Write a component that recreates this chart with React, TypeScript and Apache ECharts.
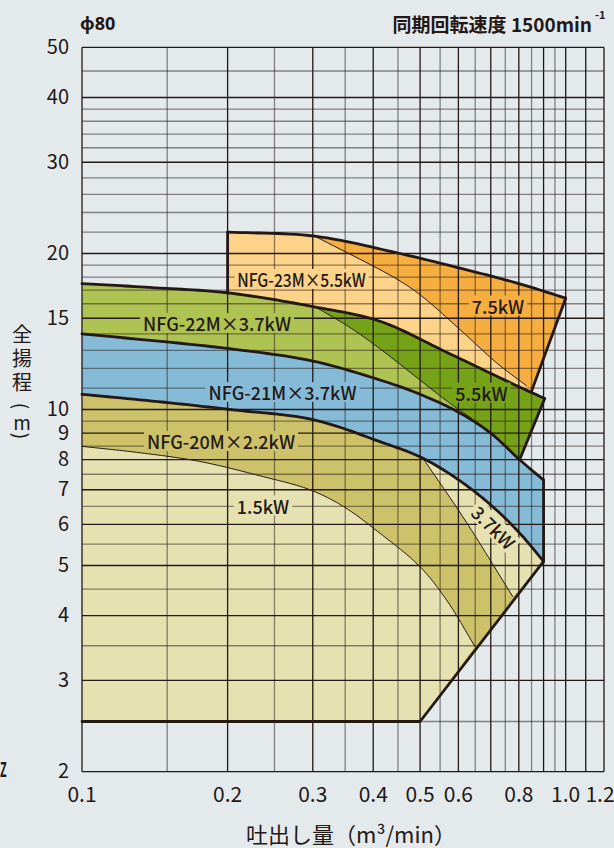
import React, { useEffect, useRef } from "react";
import * as echarts from "echarts";

// ---- axes ----
const X_MIN = 0.1;
const X_MAX = 1.2;
const Y_MIN = 2;
const Y_MAX = 50;
const xGrid = [0.1, 0.15, 0.2, 0.25, 0.3, 0.35, 0.4, 0.45, 0.5, 0.55, 0.6, 0.65, 0.7, 0.75, 0.8, 0.85, 0.9, 0.95, 1.0, 1.1, 1.2];
const yGrid = [2, 2.5, 3, 3.5, 4, 4.5, 5, 5.5, 6, 6.5, 7, 7.5, 8, 8.5, 9, 9.5, 10, 11, 12, 13, 14, 15, 16, 17, 18, 19, 20, 22, 24, 26, 28, 30, 32, 34, 36, 38, 40, 45, 50];
const xTicks = [0.1, 0.2, 0.3, 0.4, 0.5, 0.6, 0.8, 1.0, 1.2];
const yTicks = [2, 3, 4, 5, 6, 7, 8, 9, 10, 15, 20, 30, 40, 50];

// ---- H-Q curves [Q (m3/min), H (m)] ----
const curve20M = [[0.1, 10.7], [0.152, 10.3], [0.202, 10.0], [0.3, 9.56], [0.413, 8.67], [0.507, 8.05], [0.614, 7.21], [0.719, 6.4], [0.816, 5.68], [0.9, 5.09]];
const curve21M = [[0.1, 14.0], [0.202, 13.1], [0.3, 12.4], [0.413, 11.4], [0.5, 10.7], [0.604, 9.85], [0.7, 9.0], [0.803, 8.0], [0.9, 7.31]];
const curve22M = [[0.1, 17.5], [0.138, 17.2], [0.199, 16.8], [0.3, 15.8], [0.413, 14.8], [0.567, 12.9], [0.778, 11.2], [0.905, 10.5]];
const curve23M = [[0.2, 22.0], [0.303, 21.6], [0.454, 20.0], [0.624, 18.6], [0.8, 17.5], [1.0, 16.4]];

// ---- motor output limit lines ----
const limit15 = [[0.1, 8.49], [0.132, 8.25], [0.175, 7.94], [0.233, 7.45], [0.296, 7.0], [0.347, 6.5], [0.413, 5.77], [0.499, 4.98], [0.567, 4.29], [0.649, 3.49]];
const limit37 = [[0.507, 8.05], [0.619, 6.12], [0.778, 4.35]];
const limit55 = [[0.303, 15.8], [0.358, 14.4], [0.413, 13.1], [0.567, 10.4], [0.64, 9.6]];
const limit75 = [[0.303, 21.6], [0.45, 17.8], [0.506, 16.5], [0.613, 14.1], [0.72, 12.3], [0.831, 11.1]];

// ---- operating range edges ----
const baseLine = [[0.1, 2.5], [0.5, 2.5]];
const diagonal = [[0.5, 2.5], [0.9, 5.09]];
const edge21M = [[0.9, 7.31], [0.9, 5.09]];
const edge22M = [[0.905, 10.5], [0.803, 8.0]];
const edge23M = [[1.0, 16.4], [0.85, 10.85]];
const edge23MLeft = [[0.2, 22.0], [0.2, 16.8]];

// ---- styles ----
const BG = "#e4e9ec";
const DARK = "#231815";
const GRAY = "rgba(35,24,21,0.5)";
const C_PALE = "#e6e1b1";
const C_OLIVE = "#cdc26a";
const C_BLUE = "#86bbd8";
const C_LGREEN = "#afc352";
const C_DGREEN = "#76a218";
const C_LORANGE = "#fdd38a";
const C_DORANGE = "#f6ae41";
const FONT = "'Noto Sans CJK JP', 'Noto Sans', sans-serif";

const isTenth = (v: number) => Math.abs(v * 10 - Math.round(v * 10)) < 1e-6;

// centripetal Catmull-Rom through pixel points (rendering only)
function spline(px: number[][], steps = 14): number[][] {
  if (px.length < 3) return px.slice();
  const n = px.length;
  const ext = [
    [2 * px[0][0] - px[1][0], 2 * px[0][1] - px[1][1]],
    ...px,
    [2 * px[n - 1][0] - px[n - 2][0], 2 * px[n - 1][1] - px[n - 2][1]],
  ];
  const out: number[][] = [px[0]];
  const d = (a: number[], b: number[]) => Math.max(Math.pow(Math.hypot(b[0] - a[0], b[1] - a[1]), 0.5), 1e-6);
  const lerp = (a: number[], b: number[], ta: number, tb: number, t: number) => {
    const w = (t - ta) / (tb - ta);
    return [a[0] + (b[0] - a[0]) * w, a[1] + (b[1] - a[1]) * w];
  };
  for (let i = 1; i < ext.length - 2; i++) {
    const P0 = ext[i - 1], P1 = ext[i], P2 = ext[i + 1], P3 = ext[i + 2];
    const t0 = 0, t1 = t0 + d(P0, P1), t2 = t1 + d(P1, P2), t3 = t2 + d(P2, P3);
    for (let k = 1; k <= steps; k++) {
      const t = t1 + ((t2 - t1) * k) / steps;
      const A1 = lerp(P0, P1, t0, t1, t);
      const A2 = lerp(P1, P2, t1, t2, t);
      const A3 = lerp(P2, P3, t2, t3, t);
      const B1 = lerp(A1, A2, t0, t2, t);
      const B2 = lerp(A2, A3, t1, t3, t);
      out.push(lerp(B1, B2, t1, t2, t));
    }
  }
  return out;
}

const label = (text: string, x: number, y: number, bg: string, extra: any = {}) => ({
  type: "text",
  x,
  y,
  z: 100,
  silent: true,
  ...extra,
  style: {
    text,
    fill: DARK,
    fontSize: 18,
    fontWeight: 500,
    fontFamily: FONT,
    align: "center",
    verticalAlign: "middle",
    lineHeight: 20,
    backgroundColor: bg,
    padding: [0, 3],
  },
});

const plain = (text: string, x: number, y: number, size: number, align: string, extra: any = {}, weight: any = "normal", family = FONT, lh = size) => ({
  type: "text",
  x,
  y,
  z: 100,
  silent: true,
  ...extra,
  style: { text, fill: DARK, fontSize: size, lineHeight: lh, fontWeight: weight, fontFamily: family, align, verticalAlign: "middle" },
});

export default function App() {
  const ref = useRef<HTMLDivElement>(null);
  useEffect(() => {
    if (!ref.current) return;
    const chart = echarts.init(ref.current, undefined, { renderer: "svg" });
    chart.setOption({
      animation: false,
      backgroundColor: BG,
      grid: { left: 82, top: 47.3, width: 522, height: 724.4 },
      xAxis: {
        type: "log",
        logBase: 10,
        min: X_MIN,
        max: X_MAX,
        axisLine: { show: false },
        axisTick: { show: false },
        axisLabel: { show: false },
        splitLine: { show: false },
      },
      yAxis: {
        type: "log",
        logBase: 10,
        min: Y_MIN,
        max: Y_MAX,
        axisLine: { show: false },
        axisTick: { show: false },
        axisLabel: { show: false },
        splitLine: { show: false },
      },
      graphic: [
        plain("ϕ80", 80, 23, 18, "left", {}, "bold", "'Noto Sans', 'DejaVu Sans', sans-serif"),
        plain("同期回転速度 1500min", 592, 23, 19, "right", {}, "bold"),
        plain("-1", 595, 14, 11, "left", {}, "bold"),
        plain("Z", 0, 768, 20, "left", { scaleX: 0.55 }, "bold"),
        plain("全\n揚\n程", 22, 357, 20, "center", {}, "normal", FONT, 24),
        plain("(", 22, 406, 19, "center", { rotation: -Math.PI / 2 }),
        plain("m", 22, 421, 19, "center"),
        plain(")", 22, 436, 19, "center", { rotation: -Math.PI / 2 }),
        plain("吐出し量（m³/min）", 351, 833, 22, "center"),
        label("NFG-23M×5.5kW", 301.5, 279, C_LORANGE, { scaleX: 0.87 }),
        label("7.5kW", 498, 305.5, C_DORANGE),
        label("NFG-22M×3.7kW", 217, 323, C_LGREEN),
        label("NFG-21M×3.7kW", 282.5, 392, C_BLUE),
        label("5.5kW", 481.5, 392.5, C_DGREEN),
        label("NFG-20M×2.2kW", 221, 441, C_OLIVE),
        label("1.5kW", 263, 505.5, C_PALE),
        label("3.7kW", 494, 527, C_PALE, { rotation: -Math.PI / 4 }),
      ],
      series: [
        {
          type: "custom",
          silent: true,
          clip: false,
          data: [[0.3, 5]],
          renderItem: (params: any, api: any) => {
            const c = (p: number[]) => api.coord(p);
            const px = (q: number) => c([q, Y_MIN])[0];
            const dense = (pts: number[][]) => spline(pts.map(c));
            const seg = (d: number[][], q1: number, q2: number) => {
              const a = px(q1) - 0.01, b = px(q2) + 0.01;
              return d.filter((p) => p[0] >= a && p[0] <= b);
            };
            const d20 = dense(curve20M), d21 = dense(curve21M), d22 = dense(curve22M), d23 = dense(curve23M);
            const d15 = dense(limit15), d37 = dense(limit37), d55 = dense(limit55), d75 = dense(limit75);

            const fills = [
              { color: C_LORANGE, pts: [...d23, c(edge23M[1]), ...seg(d22, edge23MLeft[1][0], edge23M[1][0]).reverse(), c(edge23MLeft[1])] },
              { color: C_DORANGE, pts: [...d75, c(edge23M[1]), c(edge23M[0]), ...seg(d23, limit75[0][0], edge23M[0][0]).reverse()] },
              { color: C_LGREEN, pts: [...d22, c(edge22M[1]), ...seg(d21, X_MIN, edge22M[1][0]).reverse()] },
              { color: C_DGREEN, pts: [...d55, ...seg(d21, limit55[limit55.length - 1][0], edge22M[1][0]), c(edge22M[1]), c(edge22M[0]), ...seg(d22, limit55[0][0], edge22M[0][0]).reverse()] },
              { color: C_BLUE, pts: [...d21, ...d20.slice().reverse()] },
              { color: C_OLIVE, pts: [...d20, c(diagonal[0]), c(baseLine[0])] },
              { color: C_PALE, pts: [...d15, c(diagonal[0]), c(baseLine[0])] },
              { color: C_PALE, pts: [...d37, c(diagonal[1]), ...seg(d20, limit37[0][0], diagonal[1][0]).reverse()] },
            ];
            const thick = [d20, d21, d22, d23, [baseLine[0], diagonal[0], diagonal[1]].map(c), edge21M.map(c), edge22M.map(c), edge23M.map(c), edge23MLeft.map(c)];
            const thin = [d15, d37, d55, d75];

            const children: any[] = [];
            for (const f of fills) {
              children.push({ type: "polygon", shape: { points: f.pts }, style: { fill: f.color, stroke: "none" } });
            }
            for (const v of xGrid) {
              const a = c([v, Y_MIN]);
              const b = c([v, Y_MAX]);
              children.push({
                type: "line",
                shape: { x1: a[0], y1: a[1], x2: b[0], y2: b[1] },
                style: { stroke: isTenth(v) ? DARK : GRAY, lineWidth: 1.3 },
              });
            }
            for (const v of yGrid) {
              const a = c([X_MIN, v]);
              const b = c([X_MAX, v]);
              children.push({
                type: "line",
                shape: { x1: a[0], y1: a[1], x2: b[0], y2: b[1] },
                style: { stroke: yTicks.includes(v) ? DARK : GRAY, lineWidth: 1.3 },
              });
            }
            for (const s of thin) {
              children.push({ type: "polyline", shape: { points: s }, style: { stroke: DARK, lineWidth: 1, fill: "none" } });
            }
            for (const s of thick) {
              children.push({
                type: "polyline",
                shape: { points: s },
                style: { stroke: DARK, lineWidth: 2.8, fill: "none", lineJoin: "round", lineCap: "round" },
              });
            }
            for (const v of xTicks) {
              const a = c([v, Y_MIN]);
              children.push({
                type: "text",
                x: Math.min(a[0], 600),
                y: a[1] + 21,
                style: { text: v.toFixed(1), fill: DARK, fontSize: 21, lineHeight: 21, fontFamily: FONT, align: "center", verticalAlign: "middle" },
              });
            }
            for (const v of yTicks) {
              const a = c([X_MIN, v]);
              children.push({
                type: "text",
                x: a[0] - 13,
                y: a[1] - 2,
                style: { text: String(v), fill: DARK, fontSize: 20, lineHeight: 20, fontFamily: FONT, align: "right", verticalAlign: "middle" },
              });
            }
            return { type: "group", children };
          },
        },
      ],
    });
    return () => chart.dispose();
  }, []);
  return <div ref={ref} style={{ position: "absolute", left: 0, top: 0, width: 614, height: 848, background: BG }} />;
}
